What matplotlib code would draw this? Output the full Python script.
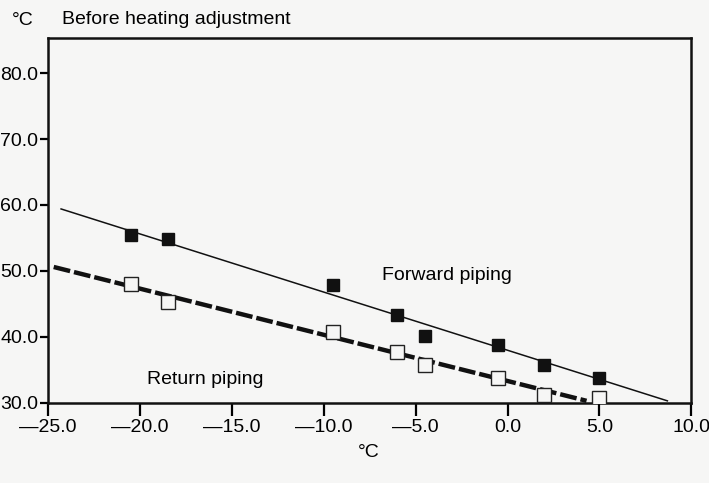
import numpy as np
import matplotlib.pyplot as plt

plt.rcParams['font.family'] = ['Liberation Sans', 'DejaVu Sans']

# outdoor temperature (deg C) for each reading
outdoor = [-20.5, -18.5, -9.5, -6.0, -4.5, -0.5, 2.0, 5.0]
# measured forward / return water temperatures (deg C)
forward_temp = [55.5, 54.8, 47.9, 43.3, 40.2, 38.8, 35.8, 33.8]
return_temp = [48.0, 45.3, 40.7, 37.7, 35.7, 33.8, 31.2, 30.7]

# hand-drawn trend lines (start/end points)
forward_line_x = [-24.3, 8.7]
forward_line_y = [59.4, 30.3]
return_line_x = [-24.7, 4.3]
return_line_y = [50.6, 30.3]

xticks = [-25, -20, -15, -10, -5, 0, 5, 10]
yticks = [30, 40, 50, 60, 70, 80]

FS = 14

fig = plt.figure(figsize=(7.09, 4.83), dpi=100)
fig.patch.set_facecolor('#f6f6f5')
ax = fig.add_axes([0.068, 0.166, 0.907, 0.755])
ax.set_facecolor('#f6f6f5')

ax.plot(forward_line_x, forward_line_y, color='#111111', lw=1.1, zorder=2)
ax.plot(return_line_x, return_line_y, color='#111111', lw=3.2,
        linestyle=(0, (3.8, 0.9)), zorder=2)

ax.plot(outdoor, forward_temp, 's', ms=9, color='#111111', zorder=3)
ax.plot(outdoor, return_temp, 's', ms=9.5, markerfacecolor='#f6f6f5',
        markeredgecolor='#222222', markeredgewidth=1.0, zorder=3)

ax.set_xlim(-25, 10)
ax.set_ylim(30, 85.3)
ax.set_xticks(xticks)
ax.set_yticks(yticks)
ax.set_xticklabels([f'{v:.1f}'.replace('-', '\u2014') for v in xticks])
ax.set_yticklabels([f'{v:.1f}' for v in yticks])

for side in ['left', 'bottom', 'right', 'top']:
    ax.spines[side].set_linewidth(1.8)
    ax.spines[side].set_color('#111111')

ax.tick_params(axis='x', direction='out', length=9, width=1.6, labelsize=FS, pad=3)
ax.tick_params(axis='y', direction='out', length=6, width=1.6, labelsize=FS, pad=1)

ax.text(-3.3, 49.3, 'Forward piping', fontsize=FS, ha='center', va='center')
ax.text(-19.6, 33.6, 'Return piping', fontsize=FS, ha='left', va='center')

fig.text(0.032, 0.958, '\u00b0C', fontsize=FS, ha='center', va='center')
fig.text(0.087, 0.96, 'Before heating adjustment', fontsize=FS, ha='left', va='center')
fig.text(0.52, 0.064, '\u00b0C', fontsize=FS, ha='center', va='center')

fig.savefig('out.png', dpi=100, facecolor=fig.get_facecolor())
